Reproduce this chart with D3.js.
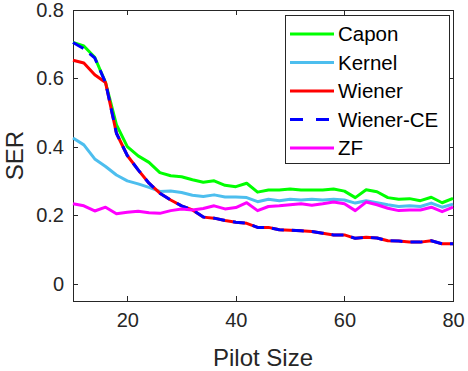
<!DOCTYPE html>
<html lang="en">
<head>
<meta charset="UTF-8">
<title>SER vs Pilot Size</title>
<script src="https://d3js.org/d3.v7.min.js"></script>
<style>
  body { margin: 0; background: #fff; }
  svg { font-family: "Liberation Sans", Arial, Helvetica, sans-serif; }
  .axis path, .axis line { stroke: #262626; stroke-width: 1; shape-rendering: crispEdges; }
  .axis text { fill: #262626; font-size: 20px; }
  .series { fill: none; stroke-width: 3; stroke-linejoin: round; }
</style>
</head>
<body>
<script>
  // pilot sizes 10..80, step 2
  var pilot = [10,12,14,16,18,20,22,24,26,28,30,32,34,36,38,40,42,44,46,48,50,52,54,56,58,60,62,64,66,68,70,72,74,76,78,80];

  var capon = [0.705,0.695,0.662,0.588,0.465,0.401,0.374,0.355,0.325,0.316,0.313,0.304,0.297,0.301,0.288,0.284,0.294,0.268,0.274,0.274,0.277,0.274,0.274,0.274,0.277,0.271,0.252,0.275,0.269,0.252,0.247,0.249,0.243,0.253,0.237,0.250];
  var kernel = [0.426,0.406,0.365,0.343,0.318,0.301,0.292,0.282,0.270,0.271,0.267,0.259,0.255,0.260,0.254,0.254,0.252,0.240,0.247,0.243,0.247,0.245,0.247,0.245,0.247,0.245,0.236,0.243,0.237,0.231,0.226,0.228,0.226,0.236,0.224,0.233];
  var wiener = [0.653,0.645,0.611,0.588,0.440,0.375,0.333,0.294,0.265,0.245,0.228,0.216,0.195,0.192,0.185,0.180,0.177,0.165,0.165,0.158,0.157,0.155,0.153,0.148,0.143,0.143,0.133,0.136,0.134,0.126,0.125,0.122,0.122,0.126,0.117,0.117];
  var wienerCE = [0.705,0.687,0.660,0.588,0.440,0.375,0.333,0.294,0.265,0.245,0.228,0.216,0.195,0.192,0.185,0.180,0.177,0.165,0.165,0.158,0.157,0.155,0.153,0.148,0.143,0.143,0.133,0.136,0.134,0.126,0.125,0.122,0.122,0.126,0.117,0.117];
  var zf = [0.234,0.228,0.213,0.224,0.205,0.209,0.212,0.208,0.206,0.214,0.219,0.216,0.220,0.228,0.219,0.223,0.237,0.214,0.226,0.228,0.231,0.234,0.230,0.234,0.239,0.234,0.214,0.239,0.231,0.221,0.214,0.216,0.216,0.224,0.211,0.224];

  var names = ["Capon", "Kernel", "Wiener", "Wiener-CE", "ZF"];
  var colors = ["#00ff00", "#4dbeee", "#ff0000", "#0000ff", "#ff00ff"];
  var xTicks = [20, 40, 60, 80];
  var yTicks = [0, 0.2, 0.4, 0.6, 0.8];

  var series = [capon, kernel, wiener, wienerCE, zf];

  var W = 468, H = 371;
  var pl = 73, pr = 453, pt = 10, pb = 301;

  var svg = d3.select("body").append("svg")
      .attr("width", W)
      .attr("height", H);

  var x = d3.scaleLinear().domain([10, 80]).range([pl, pr]);
  var y = d3.scaleLinear().domain([-0.05, 0.8]).range([pb, pt]);

  // box + ticks on all four sides (ticks pointing inward)
  svg.append("g").attr("class", "axis")
      .attr("transform", "translate(0," + pb + ")")
      .call(d3.axisBottom(x).tickValues(xTicks).tickSizeInner(-5).tickSizeOuter(0).tickPadding(12).tickFormat(d3.format("d")));
  svg.append("g").attr("class", "axis")
      .attr("transform", "translate(0," + pt + ")")
      .call(d3.axisTop(x).tickValues(xTicks).tickSizeInner(-5).tickSizeOuter(0).tickFormat(""));
  svg.append("g").attr("class", "axis")
      .attr("transform", "translate(" + pl + ",0)")
      .call(d3.axisLeft(y).tickValues(yTicks).tickSizeInner(-5).tickSizeOuter(0).tickPadding(9).tickFormat(d => d === 0 ? "0" : d3.format(".1f")(d)));
  svg.append("g").attr("class", "axis")
      .attr("transform", "translate(" + pr + ",0)")
      .call(d3.axisRight(y).tickValues(yTicks).tickSizeInner(-5).tickSizeOuter(0).tickFormat(""));

  svg.selectAll(".axis .domain").remove();
  svg.append("rect")
      .attr("x", pl).attr("y", pt)
      .attr("width", pr - pl).attr("height", pb - pt)
      .attr("fill", "none").attr("stroke", "#262626").attr("stroke-width", 1)
      .attr("shape-rendering", "crispEdges");

  var line = d3.line()
      .x((d, i) => x(pilot[i]))
      .y(d => y(d));

  series.forEach(function(s, k) {
    svg.append("path")
        .datum(s)
        .attr("class", "series")
        .attr("stroke", colors[k])
        .attr("stroke-dasharray", names[k] === "Wiener-CE" ? "12,8" : null)
        .attr("d", line);
  });

  // axis labels
  svg.append("text")
      .attr("x", (pl + pr) / 2).attr("y", 366)
      .attr("text-anchor", "middle")
      .attr("fill", "#262626")
      .style("font-size", "24px")
      .text("Pilot Size");
  svg.append("text")
      .attr("transform", "translate(23," + ((pt + pb) / 2) + ") rotate(-90)")
      .attr("text-anchor", "middle")
      .attr("fill", "#262626")
      .style("font-size", "24px")
      .text("SER");

  // legend
  var lg = svg.append("g").attr("transform", "translate(285,15)");
  lg.append("rect")
      .attr("width", 164).attr("height", 148)
      .attr("fill", "#fff").attr("stroke", "#262626").attr("stroke-width", 1)
      .attr("shape-rendering", "crispEdges");
  names.forEach(function(n, k) {
    var yy = 19 + k * 28.5;
    lg.append("line")
        .attr("x1", 5).attr("x2", 49).attr("y1", yy).attr("y2", yy)
        .attr("stroke", colors[k]).attr("stroke-width", 3)
        .attr("stroke-dasharray", n === "Wiener-CE" ? "13,13" : null);
    lg.append("text")
        .attr("x", 53).attr("y", yy + 7)
        .attr("fill", "#000")
        .style("font-size", "20.5px")
        .text(n);
  });
</script>
</body>
</html>
